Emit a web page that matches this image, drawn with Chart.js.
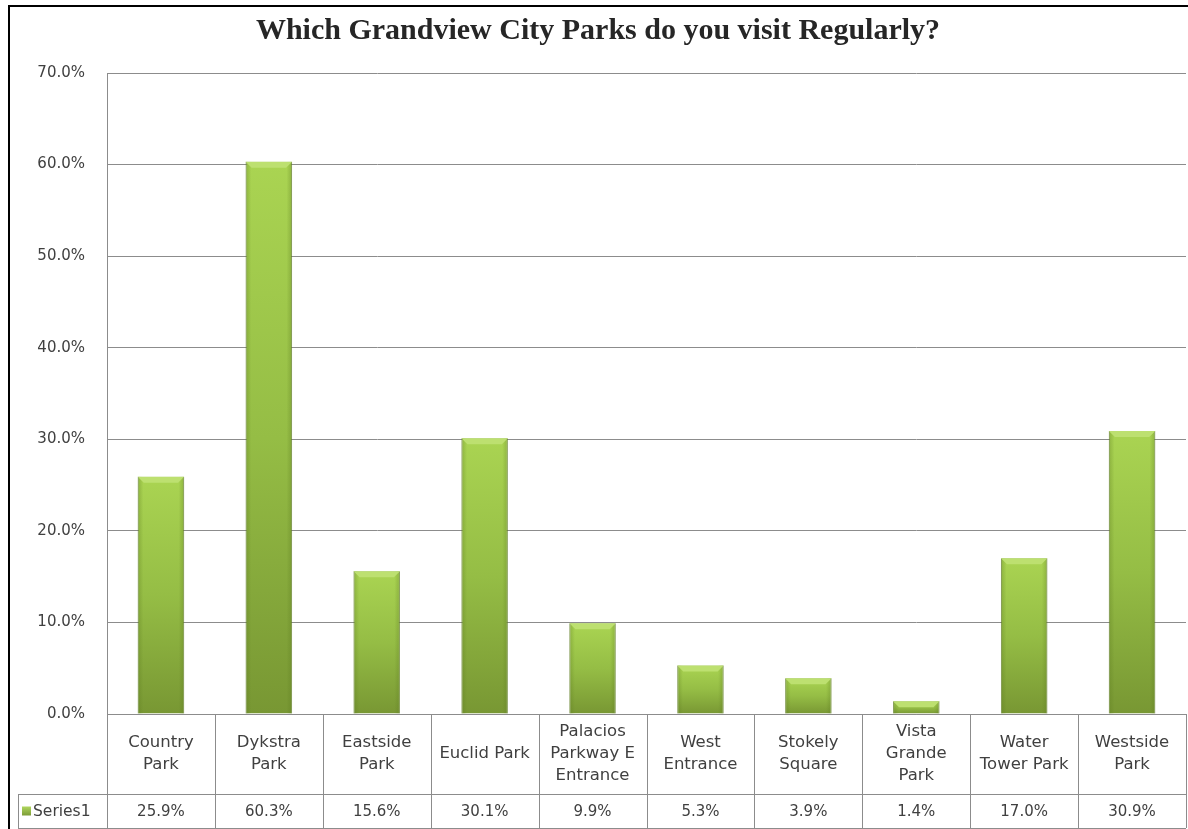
<!DOCTYPE html>
<html>
<head>
<meta charset="utf-8">
<script src="https://cdn.jsdelivr.net/npm/chart.js@4/dist/chart.umd.min.js"></script>
<style>
  body { margin: 0; background: #fff; }
  #parks-chart { display: block; }
</style>
</head>
<body>
<canvas id="parks-chart" width="1188" height="829"></canvas>
<script>
const chartTitle = 'Which Grandview City Parks do you visit Regularly?';
const seriesName = 'Series1';
// category labels, already split into the lines shown in the data table
const categories = [
  ['Country', 'Park'],
  ['Dykstra', 'Park'],
  ['Eastside', 'Park'],
  ['Euclid Park'],
  ['Palacios', 'Parkway E', 'Entrance'],
  ['West', 'Entrance'],
  ['Stokely', 'Square'],
  ['Vista', 'Grande', 'Park'],
  ['Water', 'Tower Park'],
  ['Westside', 'Park'],
];
const values = [25.9, 60.3, 15.6, 30.1, 9.9, 5.3, 3.9, 1.4, 17.0, 30.9];
const yTicks = [0, 10, 20, 30, 40, 50, 60, 70];

const textColor = '#404040';
const lineColor = '#8c8c8c';
const categoryFont = '16.5px "DejaVu Sans"';
const valueFont = '15px "DejaVu Sans"';

function barFill(context) {
  const chart = context.chart;
  const yScale = chart.scales.y;
  if (!chart.chartArea || !yScale || context.parsed == null) return '#94bb44';
  const top = yScale.getPixelForValue(context.parsed.y);
  const base = yScale.getPixelForValue(0);
  if (!isFinite(top) || !isFinite(base) || top === base) return '#94bb44';
  const g = chart.ctx.createLinearGradient(0, top, 0, base);
  g.addColorStop(0, '#aad452');
  g.addColorStop(0.5, '#95bd45');
  g.addColorStop(1, '#789733');
  return g;
}

// white page, outer frame, bevel on the bars and the data table
const excelLook = {
  id: 'excelLook',
  beforeDraw(chart) {
    const ctx = chart.ctx;
    ctx.save();
    ctx.fillStyle = '#fff';
    ctx.fillRect(0, 0, chart.width, chart.height);
    ctx.restore();
  },
  afterDatasetsDraw(chart) {
    const ctx = chart.ctx;
    const meta = chart.getDatasetMeta(0);
    ctx.save();
    meta.data.forEach((bar) => {
      const left = bar.x - bar.width / 2;
      const right = bar.x + bar.width / 2;
      const top = bar.y;
      const h = bar.base - bar.y;
      const bev = Math.min(6, h / 2);
      // side shading
      let g = ctx.createLinearGradient(left, 0, right, 0);
      g.addColorStop(0, 'rgba(90,120,30,0.35)');
      g.addColorStop(0.12, 'rgba(90,120,30,0)');
      g.addColorStop(0.88, 'rgba(90,120,30,0)');
      g.addColorStop(1, 'rgba(90,120,30,0.35)');
      ctx.fillStyle = g;
      ctx.fillRect(left, top, right - left, h);
      // top bevel
      ctx.beginPath();
      ctx.moveTo(left, top);
      ctx.lineTo(right, top);
      ctx.lineTo(right - bev, top + bev);
      ctx.lineTo(left + bev, top + bev);
      ctx.closePath();
      ctx.fillStyle = '#bde070';
      ctx.fill();
    });
    ctx.restore();
  },
  afterDraw(chart) {
    const ctx = chart.ctx;
    const xs = chart.scales.x;
    const area = chart.chartArea;
    const n = categories.length;
    const colW = (xs.right - xs.left) / n;
    const row1Top = area.bottom;
    const row2Top = area.bottom + 80;
    const row2Bottom = area.bottom + 114;
    const legendLeft = 18;

    ctx.save();
    ctx.strokeStyle = lineColor;
    ctx.lineWidth = 1;
    ctx.beginPath();
    // horizontal lines
    ctx.moveTo(area.left, row1Top + 0.5);
    ctx.lineTo(xs.right, row1Top + 0.5);
    ctx.moveTo(legendLeft, row2Top + 0.5);
    ctx.lineTo(xs.right, row2Top + 0.5);
    ctx.moveTo(legendLeft, row2Bottom + 0.5);
    ctx.lineTo(xs.right, row2Bottom + 0.5);
    // vertical lines
    ctx.moveTo(legendLeft + 0.5, row2Top);
    ctx.lineTo(legendLeft + 0.5, row2Bottom);
    for (let i = 0; i <= n; i++) {
      const x = Math.round(xs.getPixelForValue(i) - colW / 2) + 0.5;
      ctx.moveTo(x, row1Top);
      ctx.lineTo(x, row2Bottom);
    }
    ctx.stroke();

    ctx.fillStyle = textColor;
    ctx.textAlign = 'center';
    ctx.textBaseline = 'middle';
    const lineH = 22;
    categories.forEach((lines, i) => {
      const cx = xs.getPixelForValue(i);
      const midY = (row1Top + row2Top) / 2;
      const startY = midY - (lines.length - 1) * lineH / 2;
      ctx.font = categoryFont;
      lines.forEach((t, k) => ctx.fillText(t, cx, startY + k * lineH));
      ctx.font = valueFont;
      ctx.fillText(values[i].toFixed(1) + '%', cx, (row2Top + row2Bottom) / 2 + 1);
    });

    // legend key + series name
    const keyY = (row2Top + row2Bottom) / 2;
    const kg = ctx.createLinearGradient(0, keyY - 5, 0, keyY + 5);
    kg.addColorStop(0, '#b2d960');
    kg.addColorStop(1, '#7a9935');
    ctx.fillStyle = kg;
    ctx.fillRect(22, keyY - 4.5, 9, 9);
    ctx.fillStyle = textColor;
    ctx.textAlign = 'left';
    ctx.font = '15.5px "DejaVu Sans"';
    ctx.fillText(seriesName, 33, keyY + 1);

    // outer frame
    ctx.strokeStyle = '#000';
    ctx.lineWidth = 2;
    ctx.beginPath();
    ctx.moveTo(9, chart.height + 2);
    ctx.lineTo(9, 6);
    ctx.lineTo(chart.width + 2, 6);
    ctx.stroke();
    ctx.restore();
  },
};

const parksChart = new Chart('parks-chart', {
  type: 'bar',
  data: {
    labels: categories.map((c) => c.join(' ')),
    datasets: [{
      label: seriesName,
      data: values,
      backgroundColor: barFill,
      borderColor: 'rgba(105,135,45,0.7)',
      borderWidth: 1,
      borderSkipped: 'bottom',
      barPercentage: 0.43,
      categoryPercentage: 1,
    }],
  },
  options: {
    responsive: false,
    animation: false,
    layout: {
      padding: { left: 10, right: 2, top: 0, bottom: 115 },
    },
    scales: {
      x: {
        display: false,
      },
      y: {
        min: 0,
        max: 70,
        afterFit: (scale) => { scale.width = 97; },
        afterBuildTicks: (scale) => { scale.ticks = yTicks.map((v) => ({ value: v })); },
        grid: {
          color: lineColor,
          lineWidth: 1,
          drawTicks: false,
        },
        border: {
          color: lineColor,
          width: 1,
        },
        ticks: {
          padding: 22,
          color: textColor,
          font: { family: 'DejaVu Sans', size: 15 },
          callback: (v) => Number(v).toFixed(1) + '%',
        },
      },
    },
    plugins: {
      legend: { display: false },
      tooltip: { enabled: false },
      title: {
        display: true,
        text: chartTitle,
        color: '#262626',
        font: { family: 'Liberation Serif', size: 30, weight: 'bold', lineHeight: 1.2 },
        padding: { top: 13, bottom: 24 },
      },
    },
  },
  plugins: [excelLook],
});
</script>
</body>
</html>
